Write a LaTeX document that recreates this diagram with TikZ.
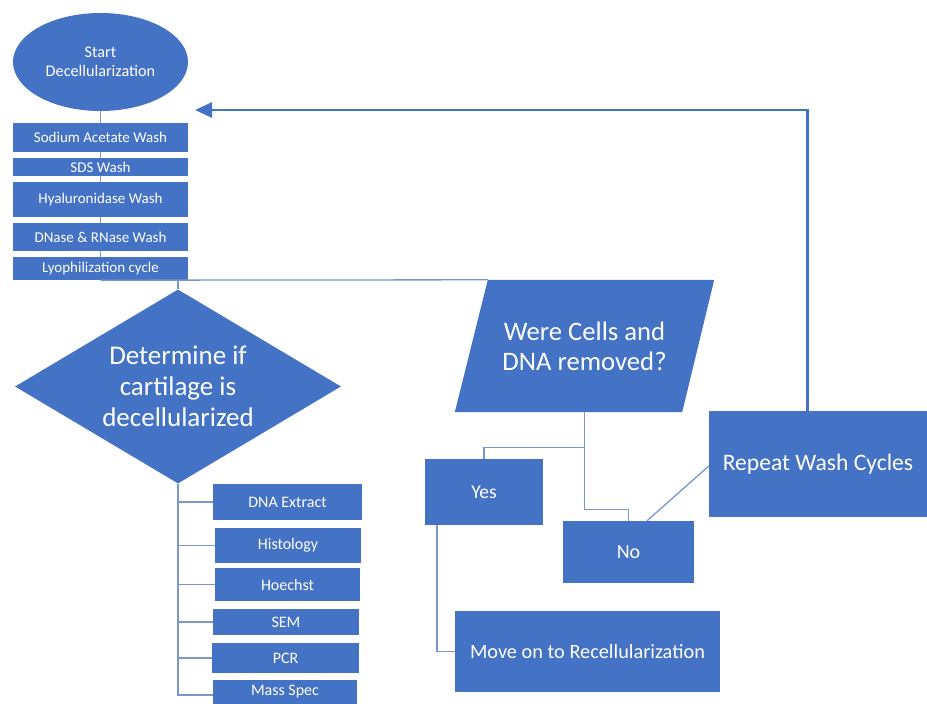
\documentclass[tikz,border=0pt]{standalone}
\usepackage{fontspec}
\setmainfont{Carlito}
\usetikzlibrary{shapes.geometric,arrows.meta,backgrounds}
\definecolor{obl}{HTML}{4472C4}
\definecolor{lnkc}{HTML}{7A96D0}
\begin{document}
\begin{tikzpicture}[x=1pt,y=-1pt,
  box/.style={rectangle, fill=obl, text=white, inner sep=0pt, align=center},
  washbox/.style={box, minimum width=175pt, font=\fontsize{15}{18}\selectfont},
  testbox/.style={box, font=\fontsize{16}{19}\selectfont},
  lnk/.style={draw=lnkc, line width=1.3pt},
  retline/.style={draw=obl, line width=2.8pt, line join=miter, -{Triangle[length=17pt,width=15pt]}}
]
\useasboundingbox (0,0) rectangle (927,704);
% start
\node[ellipse, fill=obl, text=white, minimum width=175pt, minimum height=98pt, inner sep=0pt, align=center, font=\fontsize{16.2}{19}\selectfont] (start) at (100.5,62) {Start\\Decellularization};
% wash steps
\node[washbox, minimum height=29pt] (w1) at (100.5,137.5) {Sodium Acetate Wash};
\node[washbox, minimum height=18pt] (w2) at (100.5,167) {SDS Wash};
\node[washbox, minimum height=35pt] (w3) at (100.5,199.5) {Hyaluronidase Wash};
\node[washbox, minimum height=28pt] (w4) at (100.5,237) {DNase \& RNase Wash};
\node[washbox, minimum height=23pt] (lyo) at (100.5,268.5) {Lyophilization cycle};
% diamond
\node[diamond, fill=obl, text=white, inner sep=0pt, minimum width=326pt, minimum height=194pt, aspect=1.68, align=center, font=\fontsize{27}{31}\selectfont] (diam) at (178,386.5) {Determine if\\cartilage is\\decellularized};
% tests
\node[testbox, minimum width=149pt, minimum height=36pt] (dna) at (287.5,502) {DNA Extract};
\node[testbox, minimum width=146pt, minimum height=35pt] (hist) at (288,545.5) {Histology};
\node[testbox, minimum width=145pt, minimum height=33pt] (hoe) at (287.5,584.5) {Hoechst};
\node[testbox, minimum width=146pt, minimum height=26pt] (sem) at (286,622) {SEM};
\node[testbox, minimum width=147pt, minimum height=30pt] (pcr) at (285.5,658) {PCR};
\node[testbox, minimum width=144pt, minimum height=24pt] (mass) at (285,692) {Mass Spec};
% question
\node[text=white, inner sep=0pt, align=center, minimum width=259pt, minimum height=132pt, font=\fontsize{26.7}{30}\selectfont] (para) at (584.5,346) {Were Cells and\\DNA removed?};
\begin{scope}[on background layer]
\fill[obl] ([xshift=33pt]para.north west) -- (para.north east) -- ([xshift=-32pt]para.south east) -- (para.south west) -- cycle;
\end{scope}
\coordinate (pTL) at ([xshift=33pt]para.north west);
% outcomes
\node[box, minimum width=118pt, minimum height=66pt, font=\fontsize{19.5}{23}\selectfont] (yes) at (484,492) {Yes};
\node[box, minimum width=131pt, minimum height=62pt, font=\fontsize{20}{24}\selectfont] (no) at (628.5,552) {No};
\node[box, minimum width=218pt, minimum height=106pt, font=\fontsize{23.6}{28}\selectfont] (rep) at (818,464) {Repeat Wash Cycles};
\node[box, minimum width=265pt, minimum height=81pt, font=\fontsize{20.3}{24}\selectfont] (move) at (587.5,651.5) {Move on to Recellularization};
\coordinate (ret) at (195,110);
% connectors
\draw[lnk] (start.south) -- (w1.north);
\draw[lnk] (w1.south) -- (w2.north);
\draw[lnk] (w2.south) -- (w3.north);
\draw[lnk] (w3.south) -- (w4.north);
\draw[lnk] (w4.south) -- (lyo.north);
\draw[lnk] (lyo.south) -- (pTL);
\draw[lnk] (lyo.south -| diam.north) -- (diam.north);
\draw[lnk] (diam.south) |- ([yshift=-3pt]mass.west);
\foreach \n in {dna,hist,hoe,sem,pcr} \draw[lnk] (diam.south |- \n.west) -- (\n.west);
\draw[lnk] (para.south) -- ++(0,97) -| (no.north);
\draw[lnk] (para.south) ++(0,35) -| (yes.north);
\draw[lnk] ([xshift=-47pt]yes.south) |- (move.west);
\draw[lnk] ([xshift=18.5pt]no.north) -- ([yshift=-2pt]rep.west);
\draw[retline] ([xshift=-10.5pt]rep.north) |- (ret);
\end{tikzpicture}
\end{document}
